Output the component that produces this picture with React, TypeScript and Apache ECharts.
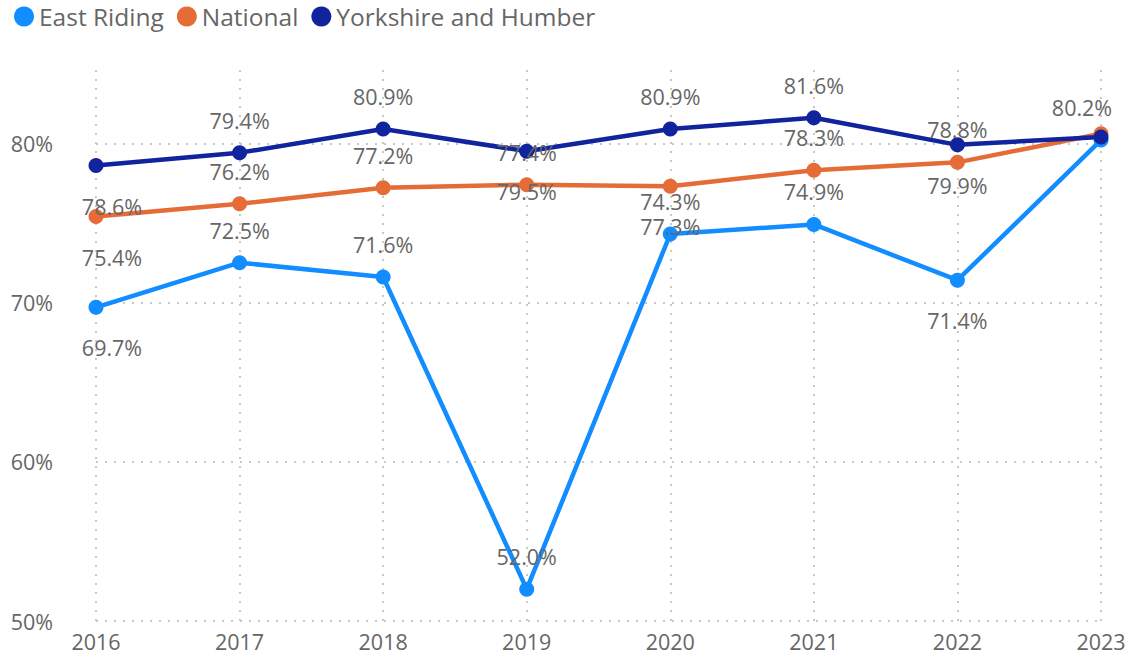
import React, { useEffect, useRef } from "react";
import * as echarts from "echarts";

const years = ["2016", "2017", "2018", "2019", "2020", "2021", "2022", "2023"];
const eastRiding = [69.7, 72.5, 71.6, 52.0, 74.3, 74.9, 71.4, 80.2];
const national = [75.4, 76.2, 77.2, 77.4, 77.3, 78.3, 78.8, 80.6];
const yorkshire = [78.6, 79.4, 80.9, 79.5, 80.9, 81.6, 79.9, 80.4];
const yTicks = [50, 60, 70, 80];

// label placement (style only): "top", "bottom" or "" (hidden)
const eastLabelPos = ["bottom", "top", "top", "top", "top", "top", "bottom", "top"];
const nationalLabelPos = ["bottom", "top", "top", "top", "bottom", "top", "top", ""];
const yorkshireLabelPos = ["bottom", "top", "top", "bottom", "top", "top", "bottom", ""];

const FONT = "'Segoe UI', 'Open Sans', sans-serif";
const TEXT = "#666666";

function buildData(values: number[], pos: string[]) {
  return values.map((v, i) => {
    const p = pos[i];
    const dx = i === 0 ? 16 : i === values.length - 1 ? -19 : 0;
    return {
      value: v,
      label: p
        ? {
            show: true,
            position: p,
            distance: p === "top" ? 14 : 22,
            offset: [dx, 0],
          }
        : { show: false },
    };
  });
}

function makeSeries(name: string, color: string, values: number[], pos: string[]) {
  return {
    name,
    type: "line",
    data: buildData(values, pos),
    symbol: "circle",
    symbolSize: 15,
    itemStyle: { color },
    lineStyle: { color, width: 4.5 },
    label: {
      show: true,
      color: TEXT,
      fontSize: 21.5,
      fontFamily: FONT,
      formatter: (p: any) => Number(p.value).toFixed(1) + "%",
    },
    emphasis: { disabled: true },
  };
}

export default function App() {
  const ref = useRef<HTMLDivElement>(null);
  useEffect(() => {
    document.body.style.margin = "0";
    const chart = echarts.init(ref.current!, undefined, { renderer: "svg" });
    chart.setOption({
      animation: false,
      textStyle: { fontFamily: FONT },
      legend: {
        left: 9,
        top: -1,
        padding: [5, 5, 5, 5],
        icon: "circle",
        itemWidth: 20,
        itemHeight: 20,
        itemGap: 13,
        textStyle: { color: TEXT, fontSize: 24.5, fontFamily: FONT },
        data: ["East Riding", "National", "Yorkshire and Humber"],
      },
      grid: { left: 96, right: 29, top: 70, bottom: 39, outerBoundsMode: "none" },
      xAxis: {
        type: "category",
        data: years,
        boundaryGap: false,
        axisLine: { show: false },
        axisTick: { show: false },
        axisLabel: { color: TEXT, fontSize: 21.5, fontFamily: FONT, margin: 9 },
        splitLine: {
          show: true,
          lineStyle: { color: "#C8C8C8", width: 2, type: [2, 7] },
        },
      },
      yAxis: {
        type: "value",
        min: yTicks[0],
        max: 84.6,
        interval: 10,
        axisLine: { show: false },
        axisTick: { show: false },
        axisLabel: {
          color: TEXT,
          fontSize: 21.5,
          fontFamily: FONT,
          margin: 43,
          showMaxLabel: false,
          formatter: (v: number) => (yTicks.includes(v) ? v + "%" : ""),
        },
        splitLine: {
          show: true,
          showMaxLine: false,
          lineStyle: {
            color: ["#C8C8C8", "#C8C8C8", "#C8C8C8", "#C8C8C8", "rgba(0,0,0,0)"],
            width: 2,
            type: [2, 7],
          },
        },
      },
      series: [
        makeSeries("East Riding", "#118DFF", eastRiding, eastLabelPos),
        makeSeries("National", "#E66C37", national, nationalLabelPos),
        makeSeries("Yorkshire and Humber", "#12239E", yorkshire, yorkshireLabelPos),
      ],
    });
    return () => chart.dispose();
  }, []);
  return <div ref={ref} style={{ width: 1130, height: 660 }} />;
}
